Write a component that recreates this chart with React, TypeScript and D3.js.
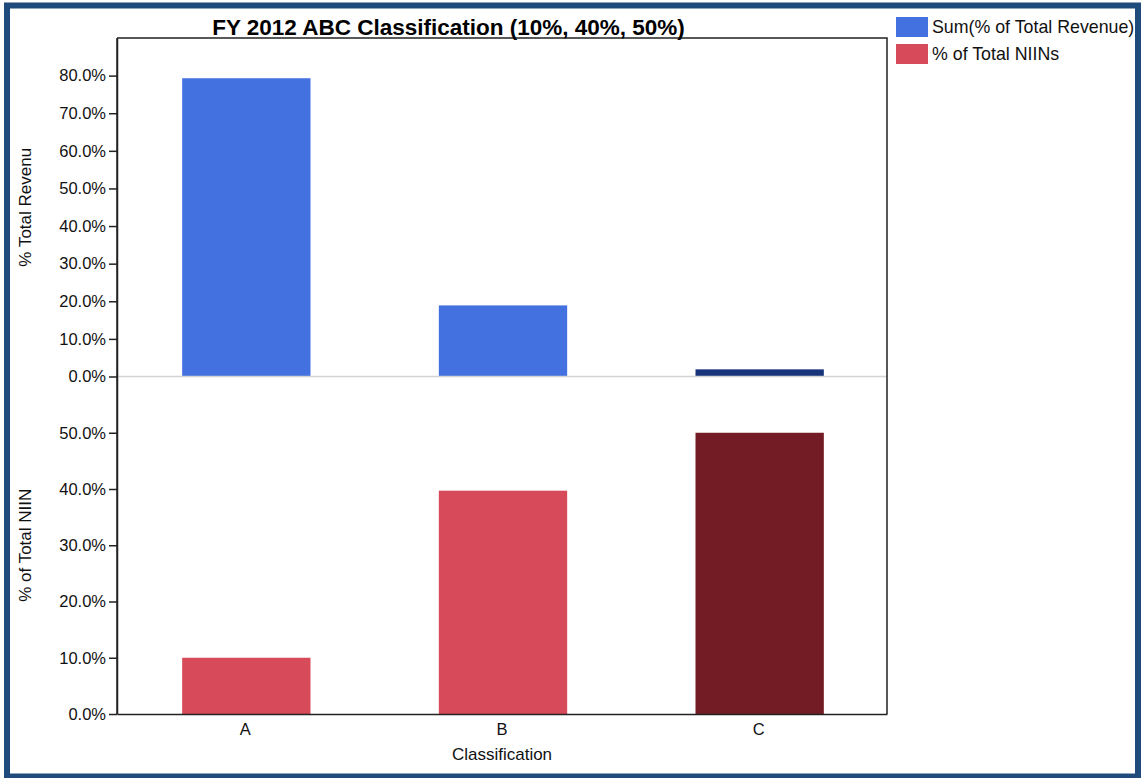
import React, { useEffect, useRef } from 'react';
import * as d3 from 'd3';

const categories = ['A', 'B', 'C'];
const revenueShare = [0.793, 0.189, 0.019];
const niinShare = [0.1, 0.397, 0.5];
const revenueColors = ['#4371E0', '#4371E0', '#17347B'];
const niinColors = ['#D64A5A', '#D64A5A', '#741C25'];
const revenueTicks = [0, 0.1, 0.2, 0.3, 0.4, 0.5, 0.6, 0.7, 0.8];
const niinTicks = [0, 0.1, 0.2, 0.3, 0.4, 0.5];
const legendItems = [
  { label: 'Sum(% of Total Revenue)', color: '#4371E0' },
  { label: '% of Total NIINs', color: '#D64A5A' },
];

const W = 1144;
const H = 778;
const FONT = '"Liberation Sans", Arial, sans-serif';

export default function App() {
  const svgRef = useRef<SVGSVGElement>(null);

  useEffect(() => {
    if (!svgRef.current) return;
    const svg = d3.select(svgRef.current);
    svg.selectAll('*').remove();

    const left = 117;
    const right = 887;
    const top = 38;
    const mid = 376.5;
    const bottom = 714;

    const x = d3.scaleBand().domain(categories).range([left, right]).paddingInner(0.5).paddingOuter(0.25);

    const yTop = d3.scaleLinear().domain([0, 0.9]).range([mid, top]);
    const yBot = d3.scaleLinear().domain([0, 0.6]).range([bottom, mid]);
    const fmt = d3.format('.1%');

    svg.append('rect').attr('width', W).attr('height', H).attr('fill', '#fff');

    // bars - revenue
    svg.append('g')
      .selectAll('rect')
      .data(revenueShare)
      .enter()
      .append('rect')
      .attr('x', (_, i) => (x(categories[i]) as number) + 1)
      .attr('y', (d) => yTop(d))
      .attr('width', x.bandwidth())
      .attr('height', (d) => yTop(0) - yTop(d))
      .attr('fill', (_, i) => revenueColors[i]);

    // bars - NIINs
    svg.append('g')
      .selectAll('rect')
      .data(niinShare)
      .enter()
      .append('rect')
      .attr('x', (_, i) => (x(categories[i]) as number) + 1)
      .attr('y', (d) => yBot(d))
      .attr('width', x.bandwidth())
      .attr('height', (d) => yBot(0) - yBot(d))
      .attr('fill', (_, i) => niinColors[i]);

    // separator
    svg.append('line')
      .attr('x1', left).attr('x2', right)
      .attr('y1', mid).attr('y2', mid)
      .attr('stroke', '#d4d4d4').attr('stroke-width', 1.5);

    // plot outline (top, right)
    svg.append('path')
      .attr('d', `M${left},${top}H${right}V${bottom}`)
      .attr('fill', 'none')
      .attr('stroke', '#222')
      .attr('stroke-width', 1.5);

    const styleAxis = (g: any) => {
      g.select('.domain').attr('stroke', '#222').attr('stroke-width', 1.5);
      g.selectAll('.tick line').attr('stroke', '#222').attr('stroke-width', 1.5);
      g.selectAll('text').style('font-family', FONT).style('font-size', '16.5px').attr('fill', '#111');
    };

    svg.append('g')
      .attr('transform', `translate(${left},0)`)
      .call(d3.axisLeft(yTop).tickValues(revenueTicks).tickFormat((d: any) => fmt(d)).tickSize(8).tickSizeOuter(0))
      .call(styleAxis);

    svg.append('g')
      .attr('transform', `translate(${left},0)`)
      .call(d3.axisLeft(yBot).tickValues(niinTicks).tickFormat((d: any) => fmt(d)).tickSize(8).tickSizeOuter(0))
      .call(styleAxis);

    // vertical axis line across both panels
    svg.append('line')
      .attr('x1', left).attr('x2', left)
      .attr('y1', top).attr('y2', bottom)
      .attr('stroke', '#222').attr('stroke-width', 1.5);

    svg.append('g')
      .attr('transform', `translate(0,${bottom})`)
      .call(d3.axisBottom(x).tickSize(0).tickPadding(9))
      .call(styleAxis);

    // axis titles
    svg.append('text')
      .attr('transform', `translate(31,${(top + mid) / 2}) rotate(-90)`)
      .attr('text-anchor', 'middle')
      .style('font-family', FONT).style('font-size', '17px').attr('fill', '#111')
      .text('% Total Revenu');

    svg.append('text')
      .attr('transform', `translate(31,${(mid + bottom) / 2}) rotate(-90)`)
      .attr('text-anchor', 'middle')
      .style('font-family', FONT).style('font-size', '17px').attr('fill', '#111')
      .text('% of Total NIIN');

    svg.append('text')
      .attr('x', (left + right) / 2)
      .attr('y', 760)
      .attr('text-anchor', 'middle')
      .style('font-family', FONT).style('font-size', '17px').attr('fill', '#111')
      .text('Classification');

    // title
    svg.append('text')
      .attr('x', 448.5)
      .attr('y', 35)
      .attr('text-anchor', 'middle')
      .style('font-family', FONT).style('font-size', '22.5px').style('font-weight', 'bold').attr('fill', '#000')
      .text('FY 2012 ABC Classification (10%, 40%, 50%)');

    // legend
    const legend = svg.append('g').attr('transform', 'translate(896,17)');
    legendItems.forEach((item, i) => {
      legend.append('rect')
        .attr('x', 0).attr('y', i * 27)
        .attr('width', 32).attr('height', 20)
        .attr('fill', item.color);
      legend.append('text')
        .attr('x', 36).attr('y', i * 27 + 16)
        .style('font-family', FONT).style('font-size', '17.8px').attr('fill', '#111')
        .text(item.label);
    });

    // outer frame
    svg.append('rect')
      .attr('x', 7).attr('y', 5.5)
      .attr('width', 1131).attr('height', 771)
      .attr('fill', 'none')
      .attr('stroke', '#1F4A7C')
      .attr('stroke-width', 6);
  }, []);

  return (
    <svg ref={svgRef} width={W} height={H} style={{ position: 'absolute', left: 0, top: 0 }}></svg>
  );
}
